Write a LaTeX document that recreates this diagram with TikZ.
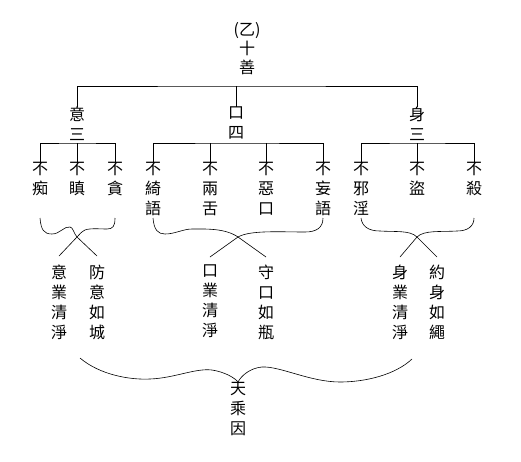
\documentclass[tikz,border=0pt]{standalone}
\usepackage{fontspec}
\newfontfamily\cjk{Noto Sans CJK TC}
\begin{document}
\begin{tikzpicture}[x=1pt, y=-1pt,
  font=\cjk\fontsize{16}{20}\selectfont,
  col/.style={anchor=north, inner sep=0pt, align=center},
  rootcol/.style={col, font=\cjk\fontsize{16}{19}\selectfont},
  link/.style={line width=0.7pt},
  brace/.style={line width=0.6pt}
]
\fill[white] (0,0) rectangle (521,461);
\useasboundingbox (0,0) rectangle (521,461);
% ----- root and the three branches -----
\node[rootcol] (root) at (247,22) {(乙)\\十\\善};
\node[col] (yi)   at (77,107)  {意\\三};
\node[col] (kou)  at (236,107) {口\\四};
\node[col] (shen) at (417,107) {身\\三};
\coordinate (top) at (236,86);
\draw[link] (yi.north) |- (top) -| (shen.north);
\draw[link] (top) -- (kou.north);
% ----- the ten precepts -----
\node[col] (chi)   at (40,162)  {不\\痴};
\node[col] (chen)  at (77,162)  {不\\瞋};
\node[col] (tan)   at (115,162) {不\\貪};
\node[col] (qi)    at (153,162) {不\\綺\\語};
\node[col] (liang) at (210,162) {不\\兩\\舌};
\node[col] (ekou)  at (266,162) {不\\惡\\口};
\node[col] (wang)  at (323,162) {不\\妄\\語};
\node[col] (xie)   at (361,162) {不\\邪\\淫};
\node[col] (dao)   at (417,162) {不\\盜};
\node[col] (sha)   at (474,162) {不\\殺};
\coordinate (yibar)   at (77,143);
\coordinate (koubar)  at (236,143);
\coordinate (shenbar) at (417,143);
\draw[link] (chi.north) |- (yibar) -| (tan.north);
\draw[link] (yibar) -- (chen.north);
\draw[link] (qi.north) |- (koubar) -| (wang.north);
\draw[link] (liang.north) -- (liang.north |- koubar);
\draw[link] (ekou.north) -- (ekou.north |- koubar);
\draw[link] (xie.north) |- (shenbar) -| (sha.north);
\draw[link] (shenbar) -- (dao.north);
% ----- crossed braces -----
\draw[brace] (40,218) .. controls (41,230) and (44,234) .. (52,234)
  .. controls (60,234) and (64,226) .. (70,227)
  .. controls (73,227) and (74,234) .. (77,237) -- (97,256);
\draw[brace] (115,218) .. controls (115,226) and (113,229) .. (107,229)
  .. controls (100,229) and (90,228) .. (85,230)
  .. controls (81,232) and (80,234) .. (77,237) -- (59,256);
\draw[brace] (153,218) .. controls (154,230) and (158,234) .. (165,234)
  .. controls (175,234) and (183,229) .. (192,229)
  .. controls (205,229) and (225,228) .. (238,237) -- (266,257);
\draw[brace] (323,218) .. controls (323,228) and (316,232) .. (305,232)
  .. controls (280,232) and (250,230) .. (238,237) -- (210,257);
\draw[brace] (361,218) .. controls (362,226) and (368,231) .. (380,231)
  .. controls (395,232) and (410,230) .. (417,237) -- (437,257);
\draw[brace] (474,218) .. controls (474,226) and (468,231) .. (457,231)
  .. controls (440,232) and (424,230) .. (417,237) -- (400,257);
% ----- the three karmas -----
\node[col] (yiye)    at (59,265)  {意\\業\\清\\淨};
\node[col] (fangyi)  at (97,265)  {防\\意\\如\\城};
\node[col] (kouye)   at (210,265) {口\\業\\清\\淨};
\node[col] (shoukou) at (266,265) {守\\口\\如\\瓶};
\node[col] (shenye)  at (400,265) {身\\業\\清\\淨};
\node[col] (yueshen) at (437,265) {約\\身\\如\\繩};
% ----- bottom brace -----
\node[col] (tian) at (238,382) {天\\乘\\因};
\draw[brace] (80,358) .. controls (100,375) and (130,380) .. (150,379)
  .. controls (175,378) and (195,368) .. (212,370)
  .. controls (225,372) and (235,378) .. (tian.north);
\draw[brace] (412,359) .. controls (395,375) and (365,382) .. (340,382)
  .. controls (310,382) and (280,366) .. (262,367)
  .. controls (250,368) and (241,376) .. (tian.north);
\end{tikzpicture}
\end{document}
